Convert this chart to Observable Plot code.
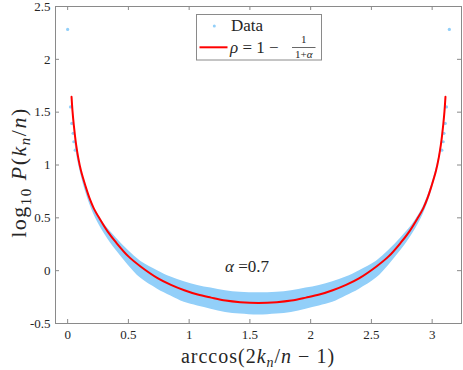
<!DOCTYPE html>
<html>
<head>
<meta charset="utf-8">
<script src="https://cdn.jsdelivr.net/npm/d3@7"></script>
<script src="https://cdn.jsdelivr.net/npm/@observablehq/plot@0.6"></script>
<style>
  html, body { margin: 0; padding: 0; background: #fff; }
  #chart { width: 463px; height: 370px; }
  #chart svg text { font-family: "Liberation Serif", serif; }
</style>
</head>
<body>
<div id="chart"></div>
<script>
// ---- data ----
const xTicks = [0, 0.5, 1, 1.5, 2, 2.5, 3];
const xTickLabels = ["0", "0.5", "1", "1.5", "2", "2.5", "3"];
const yTicks = [-0.5, 0, 0.5, 1, 1.5, 2, 2.5];
const yTickLabels = ["-0.5", "0", "0.5", "1", "1.5", "2", "2.5"];

// fitted curve (rho = 1 - 1/(1+alpha))
const curveX = [0.032, 0.04, 0.05, 0.06, 0.07, 0.087, 0.11, 0.147, 0.18, 0.215, 0.27, 0.33, 0.4, 0.5, 0.6, 0.74, 0.85, 0.96, 1.07, 1.18, 1.3, 1.42, 1.5708,
                1.7216, 1.8416, 1.9616, 2.0716, 2.1816, 2.2916, 2.4016, 2.5416, 2.6416, 2.7416, 2.8116, 2.8716, 2.9266, 2.9616, 2.9946, 3.0316, 3.0546, 3.0716, 3.0816, 3.0916, 3.1016, 3.1096];
const curveY = [1.645, 1.51, 1.385, 1.28, 1.19, 1.07, 0.945, 0.80, 0.686, 0.59, 0.48, 0.37, 0.265, 0.135, 0.04, -0.07, -0.134, -0.185, -0.226, -0.255, -0.283, -0.298, -0.305,
                -0.298, -0.283, -0.255, -0.226, -0.185, -0.134, -0.07, 0.04, 0.135, 0.265, 0.37, 0.48, 0.59, 0.686, 0.80, 0.945, 1.07, 1.19, 1.28, 1.385, 1.51, 1.645];

// dense data cloud: upper / lower edge of the blue band
const bandX  = [0.062, 0.087, 0.147, 0.215, 0.3, 0.4, 0.5, 0.6, 0.74, 0.85, 0.96, 1.07, 1.18, 1.3, 1.42, 1.5708,
                1.7216, 1.8416, 1.9616, 2.0716, 2.1816, 2.2916, 2.4016, 2.5416, 2.6416, 2.7416, 2.8416, 2.9266, 2.9946, 3.0546, 3.0796];
const bandHi = [1.25, 1.075, 0.81, 0.605, 0.445, 0.31, 0.19, 0.09, 0.0, -0.06, -0.105, -0.14, -0.165, -0.19, -0.205, -0.21,
                -0.205, -0.19, -0.165, -0.14, -0.105, -0.06, 0.0, 0.09, 0.19, 0.31, 0.445, 0.605, 0.81, 1.075, 1.25];
const bandLo = [1.19, 1.02, 0.75, 0.535, 0.355, 0.19, 0.05, -0.07, -0.175, -0.24, -0.3, -0.335, -0.365, -0.395, -0.41, -0.42,
                -0.41, -0.395, -0.365, -0.335, -0.3, -0.24, -0.175, -0.07, 0.05, 0.19, 0.355, 0.535, 0.75, 1.02, 1.19];

// isolated data points at both ends
const sparseX = [0, 0.0235, 0.034, 0.045, 0.051, 0.062, 3.1416, 3.118, 3.108, 3.097, 3.091, 3.080];
const sparseY = [2.283, 1.55, 1.393, 1.30, 1.22, 1.14, 2.283, 1.55, 1.393, 1.30, 1.22, 1.14];

const alphaLabel = { x: 1.3, y: 0.035, value: "0.7" };

// ---- tables built from the arrays ----
const curve = curveX.map((x, i) => ({ x, y: curveY[i] }));
const band = bandX.map((x, i) => ({ x, lo: bandLo[i], hi: bandHi[i] }));
const sparse = sparseX.map((x, i) => ({ x, y: sparseY[i] }));

const BLUE = "#92cff9";
const RED = "#ff0000";
const AX = "#8a8a8a";
const TXT = "#262626";
const FONT = "Liberation Serif";

const W = 463, H = 370, mT = 6, mB = 47, mL = 55, mR = 2;
const ph = H - mT - mB, pw = W - mL - mR;

const plot = Plot.plot({
  width: W, height: H,
  marginTop: mT, marginBottom: mB, marginLeft: mL, marginRight: mR,
  x: { domain: [-0.1, Math.PI + 0.1] },
  y: { domain: [-0.5, 2.5] },
  style: { fontFamily: FONT, fontSize: "13px", color: TXT, background: "white", overflow: "visible" },
  marks: [
    Plot.areaY(band, { x: "x", y1: "lo", y2: "hi", fill: BLUE, curve: "catmull-rom" }),
    Plot.dot(sparse, { x: "x", y: "y", r: 1.6, fill: BLUE }),
    Plot.line(curve, { x: "x", y: "y", stroke: RED, strokeWidth: 2, curve: "catmull-rom" }),
    Plot.frame({ stroke: AX }),
    Plot.ruleX(xTicks, { x: d => d, insetTop: ph - 4, stroke: AX }),
    Plot.ruleX(xTicks, { x: d => d, insetBottom: ph - 4, stroke: AX }),
    Plot.ruleY(yTicks, { y: d => d, insetRight: pw - 4, stroke: AX }),
    Plot.ruleY(yTicks, { y: d => d, insetLeft: pw - 4, stroke: AX }),
    Plot.axisX(xTicks, { tickSize: 0, tickPadding: 6, label: null, fontSize: 13, fill: TXT, fontFamily: FONT,
      tickFormat: d => xTickLabels[xTicks.indexOf(d)] }),
    Plot.axisY(yTicks, { tickSize: 0, tickPadding: 5, label: null, fontSize: 13, fill: TXT, fontFamily: FONT,
      tickFormat: d => yTickLabels[yTicks.indexOf(d)] })
  ]
});

document.getElementById("chart").appendChild(plot);

const svg = d3.select(plot);
const sx = plot.scale("x"), sy = plot.scale("y");

function txt(sel, x, y, size, anchor) {
  return sel.append("text").attr("x", x).attr("y", y)
    .attr("text-anchor", anchor || "start")
    .attr("font-family", FONT).attr("font-size", size).attr("fill", TXT);
}

// alpha annotation
{
  const t = txt(svg, sx.apply(alphaLabel.x), sy.apply(alphaLabel.y), 17).attr("dy", "0.32em");
  t.append("tspan").attr("font-style", "italic").text("α");
  t.append("tspan").text(" =" + alphaLabel.value);
}

// x axis label
{
  const t = txt(svg, mL + pw / 2, 363, 20, "middle").attr("letter-spacing", 1);
  t.append("tspan").text("arccos(2");
  t.append("tspan").attr("font-style", "italic").text("k");
  t.append("tspan").attr("font-style", "italic").attr("font-size", 14).attr("dy", 4).text("n");
  t.append("tspan").attr("dy", -4).text("/");
  t.append("tspan").attr("font-style", "italic").text("n");
  t.append("tspan").text(" − 1)");
}

// y axis label
{
  const cy = mT + ph / 2 + 8;
  const t = txt(svg, 0, 0, 22, "middle")
    .attr("transform", `translate(26,${cy}) rotate(-90)`)
    .attr("letter-spacing", 1.5);
  t.append("tspan").text("log");
  t.append("tspan").attr("font-size", 15).attr("dy", 5).text("10");
  t.append("tspan").attr("dy", -5).text(" ");
  t.append("tspan").attr("font-style", "italic").text("P");
  t.append("tspan").text("(");
  t.append("tspan").attr("font-style", "italic").text("k");
  t.append("tspan").attr("font-style", "italic").attr("font-size", 15).attr("dy", 4).text("n");
  t.append("tspan").attr("dy", -4).text("/");
  t.append("tspan").attr("font-style", "italic").text("n");
  t.append("tspan").text(")");
}

// legend
{
  const g = svg.append("g");
  g.append("rect").attr("x", 196.5).attr("y", 14.5).attr("width", 125).attr("height", 45.5)
    .attr("fill", "white").attr("stroke", AX).attr("stroke-width", 1);
  g.append("circle").attr("cx", 214.3).attr("cy", 26).attr("r", 1.5).attr("fill", BLUE);
  txt(g, 231, 31, 17).text("Data");
  g.append("line").attr("x1", 199.5).attr("x2", 227.5).attr("y1", 47.3).attr("y2", 47.3)
    .attr("stroke", RED).attr("stroke-width", 2);
  const t = txt(g, 230, 52.7, 17);
  t.append("tspan").attr("font-style", "italic").text("ρ");
  t.append("tspan").text(" = 1 − ");
  txt(g, 303.7, 43.3, 11, "middle").text("1");
  g.append("line").attr("x1", 292).attr("x2", 315.5).attr("y1", 47.5).attr("y2", 47.5)
    .attr("stroke", TXT).attr("stroke-width", 0.7);
  const d = txt(g, 303.7, 57.5, 11, "middle");
  d.append("tspan").text("1+");
  d.append("tspan").attr("font-style", "italic").text("α");
}
</script>
</body>
</html>
